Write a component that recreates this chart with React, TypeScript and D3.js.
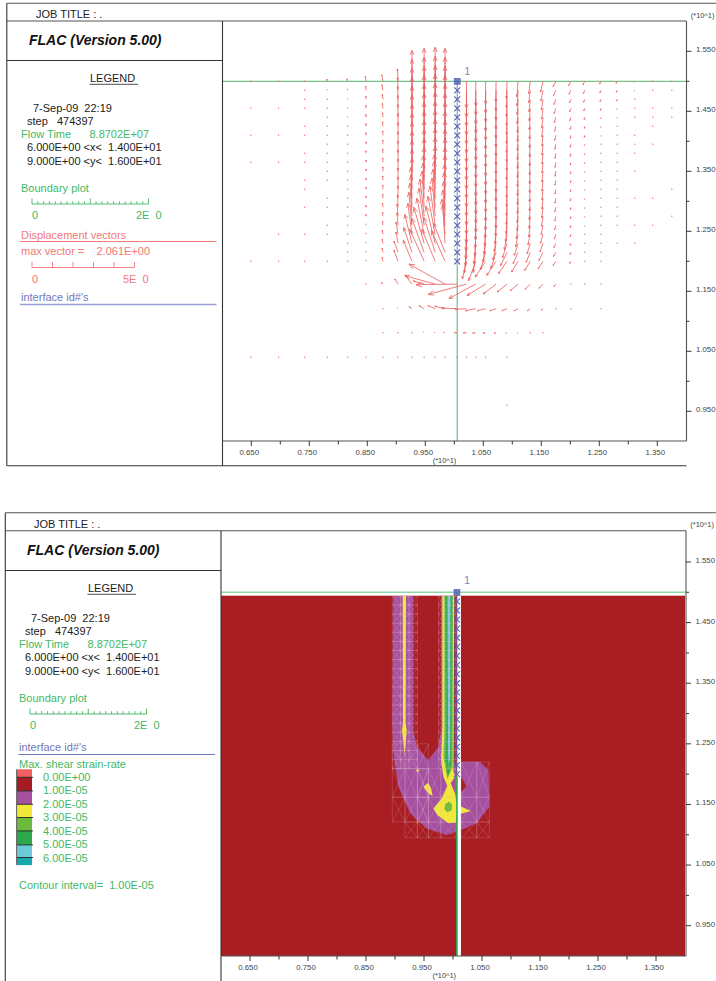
import React from "react";
import * as d3 from "d3";

// ---------- grid of the model ----------
const nodeX = [6.49, 6.97, 7.42, 7.81, 8.16, 8.48, 8.77, 9.03, 9.27, 9.48, 9.67, 9.84, 10.05, 10.21, 10.37, 10.54, 10.72, 10.91, 11.1, 11.31, 11.53, 11.75, 12.01, 12.25, 12.53, 12.81, 13.11, 13.42, 13.75];
const nodeY = [15, 14.85, 14.7, 14.55, 14.4, 14.25, 14.1, 13.95, 13.8, 13.65, 13.5, 13.35, 13.2, 13.05, 12.9, 12.75, 12.6, 12.45, 12.3, 12.15, 12, 11.62, 11.21, 10.81, 10.4];

// ---------- displacement vectors, one array per grid column ----------
const dispU: number[][] = [
  [0,0,0,0,0,0,0,0,0,0,0,0,0,0,0,0,0,0,0,0,0,0,0,0,0],
  [0,0,0,0,0,0,0,0,0,0,0,0,0,0,0,0,0,0,0,0,0,0,0,0,0],
  [0,0,0,0,0,0,0,0,0,0,0,0,0,0,0,0,0,0,0,0,0,0,0,0,0],
  [-.02,0,0,0,0,0,0,0,0,0,0,0,0,0,0,0,0,0,0,0,0,0,0,0,0],
  [-.03,-.01,0,0,0,0,0,0,0,0,0,0,0,0,0,0,0,0,0,0,0,0,0,0,0],
  [-.04,-.02,-.02,-.02,-.02,-.01,-.01,-.01,-.01,0,0,0,0,0,-.01,-.01,-.01,-.01,-.01,-.01,-.01,-.01,0,0,0],
  [-.06,-.05,-.03,-.03,-.02,-.02,-.01,-.01,-.01,-.01,-.01,-.01,-.01,-.01,-.02,-.02,-.02,-.03,-.04,-.04,-.04,-.07,-.02,0,0],
  [-.03,-.02,-.02,-.01,-.01,0,0,0,0,0,0,0,0,0,-.02,-.05,-.05,-.1,-.1,-.2,-.2,-.16,-.05,0,0],
  [0,0,0,0,0,0,0,0,0,0,0,0,0,-.05,-.05,-.1,-.15,-.2,-.35,-.4,-.42,-.34,-.14,-.02,0],
  [0,0,0,0,0,0,0,0,0,0,0,0,-.03,-.05,-.1,-.2,-.25,-.35,-.5,-.6,-.7,-.52,-.25,-.05,0],
  [0,0,0,0,0,0,0,0,0,0,0,0,-.03,-.05,-.1,-.15,-.25,-.35,-.45,-.55,-.65,-1.45,-.35,-.06,0],
  [0,0,0,0,0,0,0,0,0,0,0,0,0,-.02,-.04,-.06,-.1,-.15,-.1,-.55,-.66,-1.75,-.5,-.08,0],
  [0,0,0,0,0,0,0,0,0,0,0,0,0,0,0,0,0,0,0,0,0,-2,-.75,-.15,0],
  [0,0,0,0,0,0,0,0,0,0,0,0,0,0,0,0,-.02,-.03,-.05,-.1,-.2,-1.85,-.55,-.15,0],
  [0,0,0,0,0,0,0,0,0,0,0,0,0,0,0,-.01,-.02,-.04,-.08,-.12,-.35,-1.3,-.5,-.15,0],
  [0,0,0,0,0,0,0,0,0,0,0,0,0,0,0,-.02,-.04,-.07,-.12,-.25,-.5,-.9,-.4,-.12,0],
  [-.01,-.01,-.01,-.01,-.01,-.01,-.01,-.01,-.01,-.01,-.01,-.01,-.01,-.01,-.01,-.02,-.04,-.08,-.14,-.25,-.45,-.62,-.3,-.1,0],
  [-.03,-.03,-.03,-.02,-.02,-.02,-.02,-.02,-.02,-.02,-.02,-.02,-.02,-.02,-.03,-.04,-.07,-.13,-.22,-.32,-.42,-.48,-.25,-.08,-.02],
  [-.06,-.05,-.04,-.04,-.03,-.03,-.03,-.03,-.03,-.03,-.03,-.03,-.03,-.03,-.04,-.05,-.08,-.12,-.18,-.24,-.32,-.38,-.2,-.05,0],
  [-.08,-.07,-.06,-.05,-.05,-.04,-.04,-.04,-.04,-.04,-.04,-.04,-.04,-.04,-.05,-.06,-.08,-.11,-.15,-.2,-.27,-.25,-.14,0,0],
  [-.12,-.1,-.08,-.07,-.06,-.06,-.05,-.05,-.05,-.05,-.05,-.05,-.05,-.05,-.06,-.07,-.09,-.12,-.15,-.2,-.24,-.2,-.08,0,0],
  [-.13,-.11,-.09,-.08,-.07,-.06,-.05,-.05,-.04,-.04,-.04,-.04,-.04,-.04,-.05,-.05,-.06,-.07,-.09,-.11,-.13,-.08,-.05,0,0],
  [-.11,-.09,-.07,-.06,-.05,-.04,-.03,-.03,-.03,-.03,-.02,-.02,-.02,-.02,-.02,-.02,-.02,-.03,-.03,-.04,-.06,-.03,0,0,0],
  [-.09,-.07,-.06,-.05,-.03,-.02,-.02,-.01,-.01,-.01,-.01,-.01,-.01,-.01,-.01,-.01,-.01,-.01,-.01,-.02,-.02,0,0,0,0],
  [-.07,-.06,-.05,-.03,-.03,-.02,-.01,-.01,-.01,0,0,0,0,-.01,-.01,0,0,0,0,0,0,0,0,0,0],
  [-.06,-.05,-.04,-.03,-.02,-.01,-.01,0,0,0,0,0,0,0,0,0,0,0,0,0,0,0,0,0,0],
  [-.03,-.03,-.02,-.02,-.01,0,-.01,0,0,0,0,0,0,0,0,0,0,0,0,0,0,0,0,0,0],
  [-.02,0,0,0,0,0,0,0,0,0,0,0,0,0,0,0,0,0,0,0,0,0,0,0,0],
  [-.02,0,0,0,0,0,0,0,0,0,0,0,0,0,0,0,0,0,0,0,0,0,0,0,0],
];
const dispV: number[][] = [
  [.04,0,0,.03,0,0,.03,0,0,.03,0,0,0,0,0,0,0,0,0,0,.04,0,0,0,.03],
  [.03,0,0,.03,0,0,.03,0,0,.03,0,0,0,0,0,0,0,.04,0,0,.03,0,0,0,.03],
  [.03,.04,.03,.03,0,.04,.03,0,.04,.03,0,.04,.03,0,.04,0,0,.03,0,0,.03,0,0,0,.03],
  [.1,.06,.05,.05,.03,.04,.04,.03,.04,.03,.03,.03,0,.04,.03,0,.04,.03,0,0,.03,0,0,0,.03],
  [.12,.07,.06,.06,.06,.05,.05,.04,.05,.05,.05,.05,.04,.04,.03,.03,.04,.04,.03,.03,.03,0,0,0,.03],
  [.25,.2,.16,.15,.14,.13,.13,.12,.12,.11,.11,.11,.1,.1,.09,.09,.08,.08,.07,.07,.07,.04,0,0,.03],
  [.32,.27,.25,.24,.22,.22,.21,.21,.21,.21,.21,.21,.21,.2,.2,.2,.2,.2,.2,.2,.2,.08,.03,.03,.03],
  [.6,.62,.62,.62,.62,.62,.62,.6,.6,.6,.6,.6,.6,.6,.6,.6,.6,.6,.55,.55,.55,.25,.04,.03,.03],
  [1.5,1.5,1.5,1.5,1.5,1.5,1.5,1.5,1.5,1.5,1.5,1.5,1.5,1.5,1.55,1.6,1.6,1.5,1.4,1.2,1.02,.45,.1,.03,.03],
  [1.6,1.6,1.6,1.6,1.6,1.6,1.6,1.6,1.6,1.6,1.6,1.6,1.65,1.7,1.75,1.8,1.8,1.75,1.75,1.65,1.55,.15,.15,.03,.03],
  [1.65,1.65,1.65,1.65,1.65,1.65,1.65,1.65,1.65,1.65,1.65,1.65,1.7,1.8,1.85,1.85,1.9,1.85,1.8,1.7,1.55,.4,.15,.02,.03],
  [1.6,1.6,1.6,1.6,1.6,1.6,1.6,1.6,1.6,1.6,1.6,1.6,1.65,1.65,1.7,1.7,1.7,1.7,1.9,1.4,1.5,.97,.12,.02,.03],
  [0,0,0,0,0,0,0,0,0,0,0,0,0,0,0,0,0,0,0,0,0,-.03,.03,0,.03],
  [-1.3,-1.3,-1.3,-1.3,-1.3,-1.3,-1.3,-1.3,-1.3,-1.3,-1.3,-1.3,-1.3,-1.3,-1.3,-1.3,-1.25,-1.2,-1.1,-1,-.85,-.5,-.03,-.01,.03],
  [-1.2,-1.2,-1.2,-1.2,-1.2,-1.2,-1.2,-1.2,-1.2,-1.2,-1.2,-1.2,-1.2,-1.2,-1.2,-1.15,-1.1,-1.05,-1,-.98,-.95,-.7,-.1,-.02,.03],
  [-1.1,-1.1,-1.1,-1.1,-1.1,-1.1,-1.1,-1.1,-1.1,-1.1,-1.1,-1.1,-1.1,-1.1,-1.1,-1.05,-1,-.95,-.9,-.85,-.76,-.55,-.1,-.02,.03],
  [-1,-1,-1,-1,-1,-1,-1,-1,-1,-1,-1,-1,-1,-1,-1,-.95,-.9,-.85,-.82,-.78,-.68,-.48,-.1,-.03,0],
  [-.85,-.85,-.85,-.85,-.85,-.85,-.85,-.85,-.85,-.85,-.85,-.85,-.85,-.85,-.85,-.85,-.8,-.75,-.7,-.65,-.6,-.38,-.1,-.03,.03],
  [-.75,-.75,-.75,-.75,-.75,-.75,-.75,-.75,-.75,-.75,-.75,-.75,-.75,-.75,-.75,-.7,-.65,-.6,-.58,-.55,-.52,-.32,-.1,-.03,0],
  [-.6,-.6,-.6,-.6,-.6,-.6,-.6,-.6,-.6,-.6,-.6,-.6,-.6,-.6,-.6,-.58,-.56,-.52,-.5,-.48,-.44,-.25,-.1,.03,0],
  [-.52,-.52,-.52,-.52,-.52,-.52,-.52,-.52,-.52,-.52,-.52,-.52,-.52,-.52,-.5,-.48,-.45,-.43,-.42,-.4,-.36,-.2,-.06,.03,0],
  [-.26,-.26,-.25,-.25,-.25,-.24,-.24,-.24,-.24,-.24,-.24,-.23,-.23,-.23,-.22,-.22,-.22,-.22,-.21,-.2,-.2,-.12,-.02,0,0],
  [-.2,-.19,-.18,-.17,-.16,-.15,-.14,-.14,-.14,-.13,-.13,-.12,-.12,-.12,-.11,-.11,-.11,-.11,-.1,-.1,-.1,-.04,.03,0,0],
  [-.16,-.15,-.14,-.12,-.11,-.1,-.09,-.08,-.08,-.08,-.07,-.07,-.07,-.07,-.07,-.06,-.06,-.05,-.05,-.05,-.05,.03,0,0,0],
  [-.13,-.12,-.11,-.1,-.08,-.07,-.06,-.05,-.05,-.04,-.04,-.04,-.04,-.05,-.05,-.04,-.04,-.04,-.03,-.03,-.03,-.03,.03,0,0],
  [-.1,-.09,-.08,-.07,-.06,-.05,-.04,-.04,-.03,.03,.03,-.03,.03,-.03,.03,-.03,-.03,0,.03,0,0,0,0,0,0],
  [-.06,-.05,-.05,-.04,-.04,0,-.04,-.03,-.03,0,.03,0,0,.03,0,0,.03,0,.03,0,0,0,0,0,0],
  [.04,.03,0,.03,.03,.03,0,.03,0,0,0,0,0,.03,0,0,.03,0,0,0,0,0,0,0,0],
  [.04,.03,0,.04,.03,0,0,0,0,0,0,0,.03,0,0,.04,0,0,0,0,0,0,0,0,0],
];
const strayX = [10.91];
const strayY = [9.6];

// ---------- axes ----------
const xMajor = [6.5, 7.5, 8.5, 9.5, 10.5, 11.5, 12.5, 13.5];
const xMinor = [7, 8, 9, 10, 11, 12, 13];
const xLabels = ["0.650", "0.750", "0.850", "0.950", "1.050", "1.150", "1.250", "1.350"];
const yMajor = [15.5, 14.5, 13.5, 12.5, 11.5, 10.5, 9.5];
const yMinor = [15, 14, 13, 12, 11, 10];
const yLabels = ["1.550", "1.450", "1.350", "1.250", "1.150", "1.050", "0.950"];

// ---------- interface ----------
const interfaceTopX = 10.05;
const interfaceBottomX = 10.068;
const interfaceRows = [15, 14.85, 14.7, 14.55, 14.4, 14.25, 14.1, 13.95, 13.8, 13.65, 13.5, 13.35, 13.2, 13.05, 12.9, 12.75, 12.6, 12.45, 12.3, 12.15, 12];

// ---------- contour bands of the max shear strain-rate ----------
type P = [number, number];
const purpleLeft: P[] = [[8.972,14.939],[8.954,12.838],[8.972,12.343],[9.058,11.793],[9.259,11.353],[9.546,11.105],[9.891,10.995],[10.06,11.05],[10.06,12.1],[10.02,12.2],[10.02,14.939],[9.794,14.939],[9.794,12.728],[9.748,12.453],[9.575,12.233],[9.374,12.453],[9.316,12.728],[9.316,14.939]];
const purpleRight: P[] = [[10.138,12.205],[10.466,12.205],[10.61,12.068],[10.627,11.463],[10.408,11.188],[10.138,11.078],[10.138,11.71],[10.236,11.793],[10.138,11.958]];
const yellowArm: P[] = [[9.133,14.939],[9.19,14.939],[9.184,12.838],[9.202,12.728],[9.167,12.315],[9.121,12.728],[9.138,12.838]];
const yellowDot: P[] = [[9.391,12.09],[9.42,12.062],[9.391,12.034],[9.362,12.062]];
const yellowBlob: P[] = [[9.489,11.793],[9.575,11.859],[9.621,11.765],[9.65,11.639],[9.575,11.683]];
const yellowMain: P[] = [[9.817,14.939],[9.817,12.783],[9.794,12.233],[9.834,11.958],[9.903,11.804],[9.805,11.6],[9.661,11.435],[9.73,11.325],[9.92,11.188],[10.06,11.204],[10.06,11.325],[10.305,11.391],[10.15,11.463],[10.06,11.529],[10.035,11.682],[9.96,11.848],[10.035,11.958],[10.006,12.068],[10.023,14.939]];
const limeBand: P[] = [[9.851,14.939],[9.851,12.673],[9.834,12.288],[9.903,11.919],[9.995,12.123],[10,14.939]];
const greenBand: P[] = [[9.868,14.939],[9.88,12.618],[9.868,12.233],[9.914,11.969],[9.972,12.178],[9.977,14.939]];
const cyanBand: P[] = [[9.905,14.939],[9.955,14.939],[9.95,12.3],[9.93,12.15],[9.915,12.3]];
const limeSpot: P[] = [[9.86,11.5],[9.93,11.55],[9.985,11.5],[9.975,11.4],[9.9,11.37],[9.855,11.42]];
const redSliver: P[] = [[10.02,14.939],[10.06,14.939],[10.06,12.1],[10.02,12.2]];

// ---------- mesh patches drawn over the contours ----------
const meshArmX = [8.954, 9.098, 9.242, 9.386];
const meshStemX = [9.75, 9.83, 9.93, 10.05];
const meshArmY = [14.94, 14.79, 14.64, 14.49, 14.34, 14.19, 14.04, 13.89, 13.74, 13.59, 13.44, 13.29, 13.14, 12.99, 12.84, 12.69, 12.54, 12.39, 12.24, 12.09];
const meshElbowX = [8.954, 9.173, 9.386, 9.575];
const meshElbowY = [12.5, 12.09, 11.62, 11.21];
const meshFootX = [9.173, 9.386, 9.575, 9.79, 10.05];
const meshFootY = [11.21, 10.95];
const meshBandX = [9.386, 9.575, 9.79, 10.05];
const meshBandY = [12.09, 11.62, 11.21];
const meshRightX = [10.14, 10.41, 10.627];
const meshRightY = [12.2, 11.62, 11.21, 10.95];

// ---------- legend ----------
const legendLevels = ["0.00E+00", "1.00E-05", "2.00E-05", "3.00E-05", "4.00E-05", "5.00E-05", "6.00E-05"];
const legendColors = ["#f26060", "#a51d22", "#a6519f", "#f2e838", "#6cbb3c", "#2aa84a", "#6ccbd8", "#17a9a9"];
const legendEdges = [0, 8, 21.6, 35, 48.2, 61.6, 75.6, 88.2, 95.8];
const boundaryTicks = [0, .1, .2, .3, .4, .5, .6, .7, .8, .9, 1, 1.1, 1.2, 1.3, 1.4, 1.5, 1.6, 1.7, 1.8, 1.9, 2];
const vectorTicks = [0, 1, 2, 3, 4, 5];

const FONT = "'Liberation Sans', Arial, sans-serif";
const GREEN = "#43b864";
const PINK = "#f27878";
const BLUE = "#7078b8";
const VEC = "#ec5c5c";
const INK = "#222";
const AXIS = "#555";
const TICK = "#444";

const T = (p: any) => <text fontFamily={FONT} fontSize={11} fill={INK} style={{ whiteSpace: "pre" }} {...p} />;

function Frame({ x0, yTop, yJob, yDiv, yBot, xPlot, yAxis, xRight, xs, ys, yOuterBottom, unitX }: any) {
  return (
    <g>
      <line x1={x0} x2={716} y1={yTop} y2={yTop} stroke={AXIS} strokeWidth={1.1} />
      <line x1={x0} x2={xRight} y1={yJob} y2={yJob} stroke={AXIS} strokeWidth={1.1} />
      <line x1={x0} x2={x0} y1={yTop} y2={yOuterBottom} stroke="#333" strokeWidth={1.1} />
      <line x1={xPlot} x2={xPlot} y1={yJob} y2={yOuterBottom} stroke="#333" strokeWidth={1.1} />
      <line x1={x0} x2={xPlot} y1={yDiv} y2={yDiv} stroke="#333" strokeWidth={1} />
      {yBot != null && <line x1={x0} x2={xRight} y1={yBot} y2={yBot} stroke="#333" strokeWidth={1.1} />}
      <line x1={xPlot} x2={xRight} y1={yAxis} y2={yAxis} stroke={AXIS} strokeWidth={1.1} />
      <line x1={xRight} x2={xRight} y1={yJob} y2={yAxis} stroke={AXIS} strokeWidth={1.1} />
      {xMajor.map((v, i) => (
        <g key={v}>
          <line x1={xs(v)} x2={xs(v)} y1={yAxis} y2={yAxis + 5} stroke="#222" strokeWidth={0.9} />
          <text x={xs(v) - 2} y={yAxis + 13.5} textAnchor="middle" fontFamily={FONT} fontSize={7.8} fill={TICK}>{xLabels[i]}</text>
        </g>
      ))}
      {xMinor.map((v) => <line key={v} x1={xs(v)} x2={xs(v)} y1={yAxis} y2={yAxis + 3.5} stroke="#222" strokeWidth={0.9} />)}
      {yMajor.map((v, i) => (
        <g key={v}>
          <line x1={xRight} x2={xRight + 5} y1={ys(v)} y2={ys(v)} stroke="#222" strokeWidth={0.9} />
          <text x={xRight + 9.5} y={ys(v) + 1} fontFamily={FONT} fontSize={7.8} fill={TICK}>{yLabels[i]}</text>
        </g>
      ))}
      {yMinor.map((v) => <line key={v} x1={xRight} x2={xRight + 3} y1={ys(v)} y2={ys(v)} stroke="#222" strokeWidth={0.9} />)}
      <text x={xs(unitX) - 24.5} y={yAxis + 21.5} fontFamily={FONT} fontSize={7.4} fill={TICK}>(*10^1)</text>
      <text x={xRight + 4.3} y={yJob - 3.3} fontFamily={FONT} fontSize={7.4} fill={TICK}>(*10^1)</text>
    </g>
  );
}

function Header({ dx, dy }: any) {
  return (
    <g transform={`translate(${dx},${dy})`}>
      <T x={36} y={18}>JOB TITLE : .</T>
      <T x={29} y={45} fontSize={14} fontWeight="bold" fontStyle="italic" fill="#111">FLAC (Version 5.00)</T>
      <T x={90} y={82}>LEGEND</T>
      <line x1={89.5} x2={138} y1={84.3} y2={84.3} stroke="#222" strokeWidth={0.8} />
      <T x={33} y={112}>7-Sep-09  22:19</T>
      <T x={27} y={124.5}>step   474397</T>
      <T x={21} y={138} fill={GREEN}>Flow Time      8.8702E+07</T>
      <T x={27} y={151}>6.000E+00 {"<"}x{"<"}  1.400E+01</T>
      <T x={27} y={165}>9.000E+00 {"<"}y{"<"}  1.600E+01</T>
      <T x={21} y={191.5} fill={GREEN}>Boundary plot</T>
      <Bar x0={32} x1={148.5} y={204} ticks={boundaryTicks} domain={[0, 2]} major={[0, 1, 2]} color={GREEN} />
      <T x={32} y={218.5} fill={GREEN}>0</T>
      <T x={136} y={218.5} fill={GREEN}>2E  0</T>
    </g>
  );
}

function Bar({ x0, x1, y, ticks, domain, major, color }: any) {
  const s = d3.scaleLinear().domain(domain).range([x0, x1]);
  return (
    <g stroke={color} strokeWidth={0.9}>
      <line x1={x0} x2={x1} y1={y} y2={y} />
      {ticks.map((t: number) => (
        <line key={t} x1={s(t)} x2={s(t)} y1={y} y2={y - (major.includes(t) ? 5.5 : 2.8)} />
      ))}
    </g>
  );
}

function Polys({ xs, ys }: any) {
  const line = d3.line<P>().x((d) => xs(d[0])).y((d) => ys(d[1])).curve(d3.curveLinearClosed);
  const bands: [P[], string][] = [
    [purpleLeft, "#a6519f"], [purpleRight, "#a6519f"], [redSliver, "#a51d22"],
    [yellowArm, "#f2e838"], [yellowDot, "#f2e838"], [yellowBlob, "#f2e838"], [yellowMain, "#f2e838"],
    [limeBand, "#6cbb3c"], [greenBand, "#2aa84a"], [cyanBand, "#6ccbd8"], [limeSpot, "#6cbb3c"],
  ];
  return <g>{bands.map(([p, c], i) => <path key={i} d={line(p) as string} fill={c} />)}</g>;
}

function MeshPatch({ xv, yv, xs, ys }: any) {
  const segs: string[] = [];
  for (let i = 0; i < xv.length - 1; i++) {
    for (let j = 0; j < yv.length - 1; j++) {
      const a = xs(xv[i]), b = xs(xv[i + 1]), c = ys(yv[j]), e = ys(yv[j + 1]);
      segs.push(`M${a},${c}L${b},${c}L${b},${e}L${a},${e}Z`, `M${a},${c}L${b},${e}M${b},${c}L${a},${e}`);
    }
  }
  return <path d={segs.join("")} fill="none" stroke="#e8c0d8" strokeOpacity={0.3} strokeWidth={0.65} />;
}

function InterfaceMarks({ xs, ys, ix, labelDy }: any) {
  const x = xs(ix);
  return (
    <g stroke="#5664b4" strokeWidth={1.15}>
      <line x1={x} x2={x} y1={ys(15)} y2={ys(12)} strokeWidth={0.8} />
      {interfaceRows.map((r, i) =>
        i === 0 ? (
          <rect key={r} x={x - 3} y={ys(r) - 3} width={6} height={6} fill="#5664b4" fillOpacity={0.85} strokeWidth={0.6} />
        ) : (
          <path key={r} d={`M${x - 3},${ys(r) - 3}L${x + 3},${ys(r) + 3}M${x + 3},${ys(r) - 3}L${x - 3},${ys(r) + 3}`} fill="none" />
        )
      )}
      <text x={x + 7} y={ys(15) + labelDy} fontFamily={FONT} fontSize={11} fill="#8088c4" stroke="none">1</text>
    </g>
  );
}

function Vectors({ xs, ys, pxPerUnit }: any) {
  const items: React.ReactNode[] = [];
  const draw = (x0: number, y0: number, u: number, v: number, key: string) => {
    const dx = u * pxPerUnit, dy = -v * pxPerUnit;
    const len = Math.hypot(dx, dy);
    const d: string[] = [];
    if (len < 1.2) {
      items.push(<rect key={key} x={x0 - 0.6} y={y0 - 0.7} width={1.2} height={1.4} fill={VEC} fillOpacity={0.75} />);
      return;
    }
    d.push(`M${x0},${y0}L${x0 + dx},${y0 + dy}`);
    if (len > 1.8) {
      const h = Math.max(1.1, len * 0.15);
      const a = Math.atan2(dy, dx);
      for (const s of [-1, 1]) {
        const t = a + Math.PI + s * 0.4;
        d.push(`M${x0 + dx},${y0 + dy}L${x0 + dx + h * Math.cos(t)},${y0 + dy + h * Math.sin(t)}`);
      }
    }
    items.push(<path key={key} d={d.join("")} fill="none" stroke={VEC} strokeOpacity={0.8} strokeWidth={1} />);
  };
  nodeX.forEach((nx, c) => nodeY.forEach((ny, r) => {
    const u = dispU[c][r], v = dispV[c][r];
    if (u !== 0 || v !== 0) draw(xs(nx), ys(ny), u, v, `${c}-${r}`);
  }));
  strayX.forEach((nx, i) => draw(xs(nx), ys(strayY[i]), 0, 0.03, `s${i}`));
  return <g>{items}</g>;
}

export default function App() {
  const topX = d3.scaleLinear().domain([6, 14]).range([222.3, 686.3]);
  const topY = d3.scaleLinear().domain([9, 16]).range([441.3, 21.3]);
  const botX = d3.scaleLinear().domain([6, 14]).range([221, 685]);
  const botY = d3.scaleLinear().domain([9, 15]).range([956, 592.3]);
  const botTop = botY(14.944);
  const gapX = botX(interfaceBottomX);

  return (
    <svg width={716} height={981} style={{ position: "absolute", left: 0, top: 0, display: "block", background: "#fff" }}>
      {/* upper plot */}
      <line x1={topX(6)} x2={topX(14)} y1={topY(15)} y2={topY(15)} stroke="#43a85a" strokeWidth={0.9} />
      <line x1={topX(interfaceTopX)} x2={topX(interfaceTopX)} y1={topY(12)} y2={topY(9)} stroke="#43a85a" strokeWidth={0.9} />
      <Vectors xs={topX} ys={topY} pxPerUnit={20.6} />
      <InterfaceMarks xs={topX} ys={topY} ix={interfaceTopX} labelDy={-6.5} />
      <Frame x0={6.8} yTop={3.3} yJob={21} yDiv={60.5} yBot={465.8} xPlot={222.5} yAxis={441} xRight={686.5} xs={topX} ys={topY} yOuterBottom={465.8} unitX={interfaceTopX} />
      <Header dx={0} dy={0} />
      <T x={21} y={238.5} fill={PINK}>Displacement vectors</T>
      <line x1={20} x2={216.5} y1={241.5} y2={241.5} stroke={PINK} strokeWidth={1} />
      <T x={21} y={255} fill={PINK}>max vector =    2.061E+00</T>
      <Bar x0={32} x1={134.5} y={267.5} ticks={vectorTicks} domain={[0, 5]} major={vectorTicks} color={PINK} />
      <T x={32} y={282.5} fill={PINK}>0</T>
      <T x={123} y={282.5} fill={PINK}>5E  0</T>
      <T x={21} y={301} fill={BLUE}>interface id#'s</T>
      <line x1={20} x2={216.5} y1={304.5} y2={304.5} stroke="#9aa0d6" strokeWidth={1.4} />

      {/* lower plot */}
      <rect x={botX(6)} y={botTop} width={botX(14) - botX(6)} height={956 - botTop} fill="#a81e22" />
      <Polys xs={botX} ys={botY} />
      <MeshPatch xv={meshArmX} yv={meshArmY} xs={botX} ys={botY} />
      <MeshPatch xv={meshStemX} yv={meshArmY} xs={botX} ys={botY} />
      <MeshPatch xv={meshElbowX} yv={meshElbowY} xs={botX} ys={botY} />
      <MeshPatch xv={meshFootX} yv={meshFootY} xs={botX} ys={botY} />
      <MeshPatch xv={meshBandX} yv={meshBandY} xs={botX} ys={botY} />
      <MeshPatch xv={meshRightX} yv={meshRightY} xs={botX} ys={botY} />
      <rect x={gapX} y={botTop} width={4} height={956 - botTop} fill="#fff" />
      <line x1={botX(6)} x2={botX(14)} y1={botY(15)} y2={botY(15)} stroke="#8fd8a4" strokeWidth={1.6} />
      <line x1={gapX} x2={gapX} y1={botY(12) + 2} y2={956} stroke="#27b04c" strokeWidth={1.6} />
      <InterfaceMarks xs={botX} ys={botY} ix={interfaceBottomX} labelDy={-8} />
      <Frame x0={5.3} yTop={512.7} yJob={530.7} yDiv={570.5} yBot={null} xPlot={221} yAxis={956} xRight={686} xs={botX} ys={botY} yOuterBottom={981} unitX={interfaceBottomX} />
      <Header dx={-2} dy={510} />
      <T x={19} y={751} fill={BLUE}>interface id#'s</T>
      <line x1={18.5} x2={215} y1={754.5} y2={754.5} stroke="#5a66b6" strokeWidth={0.9} />
      <T x={19} y={768} fill={GREEN}>Max. shear strain-rate</T>
      {legendColors.map((c, i) => (
        <rect key={c} x={17} y={769.3 + legendEdges[i]} width={15} height={legendEdges[i + 1] - legendEdges[i]} fill={c} />
      ))}
      <line x1={16.6} x2={16.6} y1={769.3} y2={865.1} stroke="#333" strokeWidth={0.8} />
      {legendEdges.slice(1, 8).map((e) => (
        <line key={e} x1={17} x2={33} y1={769.3 + e} y2={769.3 + e} stroke="#222" strokeWidth={0.9} />
      ))}
      {legendLevels.map((l, i) => (
        <T key={l} x={43} y={780.7 + i * 13.55} fill={GREEN}>{l}</T>
      ))}
      <T x={19} y={889} fill={GREEN}>Contour interval=  1.00E-05</T>
    </svg>
  );
}
